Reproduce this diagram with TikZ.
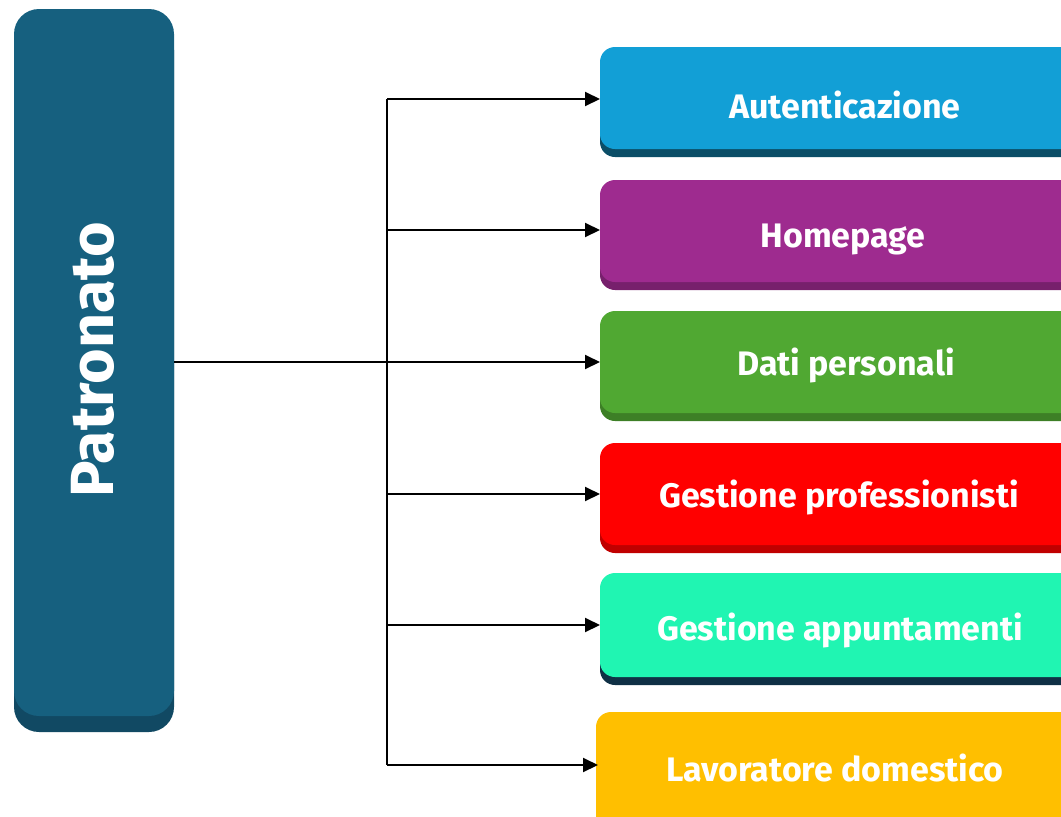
\documentclass[tikz,border=0pt]{standalone}
\usepackage{fontspec}
\setmainfont{Fira Sans}
\usetikzlibrary{arrows.meta}
\definecolor{patr}{HTML}{16607F}
\definecolor{patrS}{HTML}{114963}
\definecolor{cA}{HTML}{129FD6}\definecolor{cAs}{HTML}{0B4E67}
\definecolor{cB}{HTML}{9E2B8F}\definecolor{cBs}{HTML}{77206C}
\definecolor{cC}{HTML}{50A832}\definecolor{cCs}{HTML}{3D7F26}
\definecolor{cD}{HTML}{FF0000}\definecolor{cDs}{HTML}{C00000}
\definecolor{cE}{HTML}{20F5B2}\definecolor{cEs}{HTML}{0F3045}
\definecolor{cF}{HTML}{FFBF00}\definecolor{cFs}{HTML}{C79500}
\tikzset{
  conn/.style={line width=2pt,black},
  arr/.style={conn,-{Triangle[length=15pt,width=14pt]}},
  lbl/.style={text=white,font=\bfseries\fontsize{34}{40}\selectfont,inner sep=0pt},
}
\begin{document}
\begin{tikzpicture}[x=1pt,y=-1pt]
\useasboundingbox (0,0) rectangle (1061,817);
\clip (0,0) rectangle (1061,817);
% left box
\fill[patrS,rounded corners=25pt] (14,25) rectangle (174,732);
\fill[patr,rounded corners=25pt] (14,9) rectangle (174,716);
\node[text=white,font=\bfseries\fontsize{61}{66}\selectfont,rotate=90,inner sep=0pt] (patr) at (93,360) {Patronato};
\coordinate (pout) at (174,362);
% right boxes
\newcommand{\rbox}[6]{%
  \fill[#5,rounded corners=15pt] (#1,#2+8) rectangle (1120,#3+8);
  \fill[#4,rounded corners=15pt] (#1,#2) rectangle (1120,#3);
  \coordinate (#6) at (#1,#2/2+#3/2+4);
}
\rbox{600}{47}{149}{cA}{cAs}{bA}
\rbox{600}{180}{282}{cB}{cBs}{bB}
\rbox{600}{311}{413}{cC}{cCs}{bC}
\rbox{600}{443}{545}{cD}{cDs}{bD}
\rbox{600}{573}{677}{cE}{cEs}{bE}
\rbox{596}{712}{830}{cF}{cFs}{bF}
\node[lbl] (tA) at (845,105) {Autenticazione};
\node[lbl] (tB) at (843,239) {Homepage};
\node[lbl] (tC) at (846,365) {Dati personali};
\node[lbl] (tD) at (839,497) {Gestione professionisti};
\node[lbl] (tE) at (840,630) {Gestione appuntamenti};
\node[lbl] (tF) at (835,768) {Lavoratore domestico};
% connectors
\coordinate (a1) at (600,99);
\coordinate (a2) at (600,230);
\coordinate (a3) at (600,362);
\coordinate (a4) at (600,494);
\coordinate (a5) at (600,625);
\coordinate (a6) at (598,765);
\coordinate (top) at (387,99);
\coordinate (bot) at (387,765);
\draw[conn] (pout) -- (387,362);
\draw[conn] (top) -- (bot);
\foreach \t in {a1,a2,a3,a4,a5,a6}{
  \draw[arr] (387,0 |- \t) -- (\t);
}
\end{tikzpicture}
\end{document}
